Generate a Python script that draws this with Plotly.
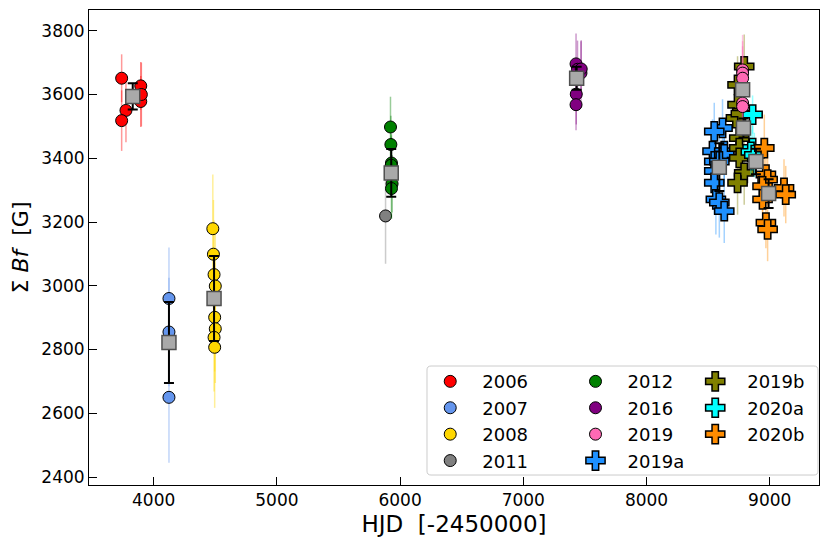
import plotly.graph_objects as go

# Valores: HJD (-2450000), soma Bf [G] e erro de cada ponto

hjd_2006 = [3740, 3775, 3740, 3895, 3895, 3900]
bf_2006 = [3651, 3550, 3518, 3627, 3578, 3600]
err_2006 = [75, 100, 95, 75, 80, 100]

hjd_2007 = [4124, 4124, 4124]
bf_2007 = [2960, 2855, 2650]
err_2007 = [160, 170, 205]

hjd_2008 = [4480, 4485, 4490, 4500, 4495, 4500, 4490, 4495]
bf_2008 = [3179, 3099, 3035, 2999, 2901, 2865, 2838, 2807]
err_2008 = [170, 170, 170, 170, 170, 170, 170, 190]

hjd_2011 = [5882]
bf_2011 = [3219]
err_2011 = [150]

hjd_2012 = [5922, 5925, 5930, 5928, 5935, 5930]
bf_2012 = [3498, 3443, 3385, 3378, 3320, 3305]
err_2012 = [95, 90, 90, 90, 90, 95]

hjd_2016 = [7428, 7440, 7468, 7470, 7430, 7428]
bf_2016 = [3696, 3679, 3667, 3680, 3601, 3568]
err_2016 = [95, 90, 100, 90, 95, 80]

hjd_2019 = [8780, 8780, 8780, 8780, 8780]
bf_2019 = [3677, 3667, 3651, 3573, 3562]
err_2019 = [110, 100, 100, 60, 60]

hjd_2019a = [8617, 8550, 8536, 8631, 8550, 8631, 8591, 8550, 8550, 8563, 8591, 8631]
bf_2019a = [3495, 3484, 3422, 3422, 3390, 3412, 3390, 3360, 3323, 3271, 3261, 3234]
err_2019a = [90, 90, 100, 100, 100, 100, 100, 100, 100, 110, 110, 100]

hjd_2019b = [8793, 8739, 8739, 8726, 8753, 8753, 8753, 8793, 8739, 8766]
bf_2019b = [3688, 3630, 3568, 3526, 3463, 3432, 3401, 3354, 3323, 3540]
err_2019b = [100, 90, 90, 90, 90, 90, 90, 100, 100, 90]

hjd_2020a = [8861, 8861, 8847, 8875]
bf_2020a = [3537, 3432, 3420, 3410]
err_2020a = [60, 70, 70, 70]

hjd_2020b = [8956, 8969, 8983, 8942, 8942, 9116, 9130, 8969, 8983]
bf_2020b = [3432, 3349, 3333, 3312, 3271, 3307, 3286, 3198, 3177]
err_2020b = [105, 80, 80, 80, 80, 90, 90, 80, 100]

# médias de cada temporada (quadrados cinza)
mean_hjd = [3830, 4124, 4490, 5928, 7433, 8780, 8591, 8787, 8888, 8991]
mean_bf = [3594, 2822, 2960, 3354, 3651, 3615, 3372, 3495, 3390, 3289]
mean_err = [41, 127, 133, 75, 36, 20, 75, 30, 40, 45]

# (nome, x, y, erro, cor, símbolo, legenda)
seasons = [
    ('2006', hjd_2006, bf_2006, err_2006, '#ff0000', 'circle', 'legend'),
    ('2007', hjd_2007, bf_2007, err_2007, '#6495ed', 'circle', 'legend'),
    ('2008', hjd_2008, bf_2008, err_2008, '#ffd700', 'circle', 'legend'),
    ('2011', hjd_2011, bf_2011, err_2011, '#808080', 'circle', 'legend'),
    ('2012', hjd_2012, bf_2012, err_2012, '#008000', 'circle', 'legend2'),
    ('2016', hjd_2016, bf_2016, err_2016, '#800080', 'circle', 'legend2'),
    ('2019', hjd_2019, bf_2019, err_2019, '#ff69b4', 'circle', 'legend2'),
    ('2019a', hjd_2019a, bf_2019a, err_2019a, '#1e90ff', 'cross', 'legend2'),
    ('2019b', hjd_2019b, bf_2019b, err_2019b, '#808000', 'cross', 'legend3'),
    ('2020a', hjd_2020a, bf_2020a, err_2020a, '#00ffff', 'cross', 'legend3'),
    ('2020b', hjd_2020b, bf_2020b, err_2020b, '#ff8c00', 'cross', 'legend3'),
]

# ordem de desenho: os círculos rosa de 2019 ficam por cima das cruzes
draw_order = [0, 1, 2, 3, 4, 5, 7, 8, 9, 10, 6]


def rgba(hexcolor, a):
    h = hexcolor.lstrip('#')
    r, g, b = int(h[0:2], 16), int(h[2:4], 16), int(h[4:6], 16)
    return f'rgba({r},{g},{b},{a})'


fig = go.Figure()

for i in draw_order:
    name, x, y, err, color, symbol, leg = seasons[i]
    fig.add_trace(go.Scatter(
        x=x, y=y, name=name, mode='markers', legend=leg, legendrank=i + 1,
        error_y=dict(type='data', array=err, color=rgba(color, 0.4),
                     thickness=1.5, width=0),
        marker=dict(color=color, symbol=symbol,
                    size=12 if symbol == 'circle' else 16,
                    line=dict(color='black', width=1 if symbol == 'circle' else 1.5)),
    ))

fig.add_trace(go.Scatter(
    x=mean_hjd, y=mean_bf, mode='markers', showlegend=False,
    error_y=dict(type='data', array=mean_err, color='black', thickness=2, width=5),
    marker=dict(color='#a9a9a9', symbol='square', size=14,
                line=dict(color='#505050', width=1.5)),
))

# caixa da legenda com cantos arredondados
x0, x1, y0, y1 = 0.463, 0.9986, 0.021, 0.2505
rx, ry = 0.0055, 0.0084
box = (f'M {x0+rx},{y0} L {x1-rx},{y0} Q {x1},{y0} {x1},{y0+ry} '
       f'L {x1},{y1-ry} Q {x1},{y1} {x1-rx},{y1} '
       f'L {x0+rx},{y1} Q {x0},{y1} {x0},{y1-ry} '
       f'L {x0},{y0+ry} Q {x0},{y0} {x0+rx},{y0} Z')
fig.add_shape(type='path', path=box, xref='paper', yref='paper',
              fillcolor='rgba(255,255,255,0.8)', line=dict(color='#cccccc', width=1),
              layer='above')

leg_style = dict(yanchor='top', y=0.2565, xanchor='left', bgcolor='rgba(0,0,0,0)',
                 borderwidth=0, itemwidth=54, font=dict(size=18, color='black'))

fig.update_layout(
    width=830, height=543,
    margin=dict(l=89, r=11, t=10, b=58),
    plot_bgcolor='white', paper_bgcolor='white',
    font=dict(family='DejaVu Sans', color='black'),
    legend=dict(x=0.451, **leg_style),
    legend2=dict(x=0.650, **leg_style),
    legend3=dict(x=0.814, **leg_style),
    xaxis=dict(
        range=[3475, 9400], tickvals=[4000, 5000, 6000, 7000, 8000, 9000],
        ticks='inside', ticklen=8, tickwidth=1.2, tickcolor='black',
        showline=True, linecolor='black', linewidth=1, mirror=True,
        showgrid=False, zeroline=False, tickfont=dict(size=17),
        title=dict(text='HJD  [-2450000]', font=dict(size=23), standoff=6),
    ),
    yaxis=dict(
        range=[2375, 3865], tickvals=[2400, 2600, 2800, 3000, 3200, 3400, 3600, 3800],
        ticks='inside', ticklen=8, tickwidth=1.2, tickcolor='black',
        showline=True, linecolor='black', linewidth=1, mirror=True,
        showgrid=False, zeroline=False, tickfont=dict(size=17),
        title=dict(text='Σ <i>Bf</i>  [G]', font=dict(size=22), standoff=6),
    ),
)

# tira a margem padrão do <body> para a figura ocupar a janela inteira
fig.write_html('out.html', config={'displayModeBar': False},
               post_script="document.body.style.margin='0';")
